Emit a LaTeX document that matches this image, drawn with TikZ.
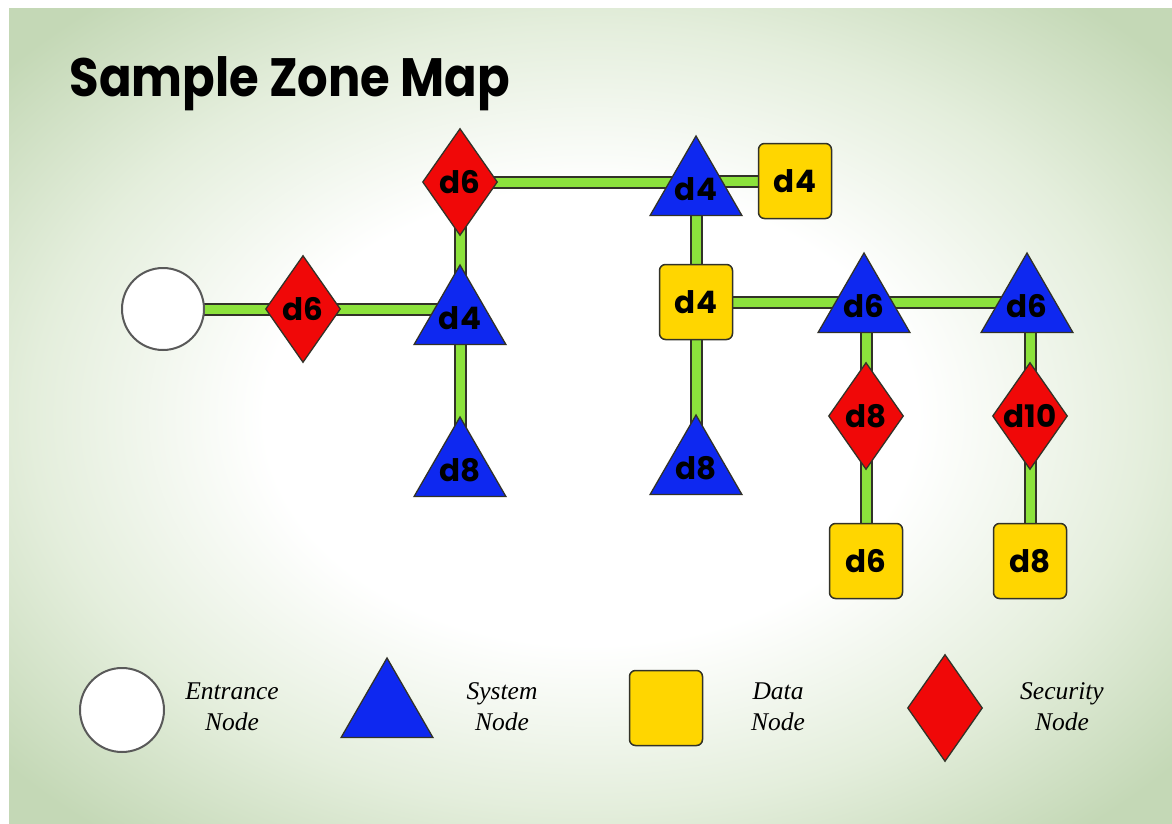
\documentclass[tikz,border=0pt]{standalone}
\usepackage{fontspec}
\setmainfont{Liberation Serif}
\newfontfamily\labfont{Poppins}
\newfontfamily\titlefont{Poppins}[FakeStretch=0.89]
\usetikzlibrary{shapes.geometric}
\definecolor{bggreen}{RGB}{196,216,182}
\definecolor{bgmid}{RGB}{228,238,220}
\definecolor{linegreen}{RGB}{140,226,60}
\definecolor{sysblue}{RGB}{14,40,240}
\definecolor{secred}{RGB}{240,8,8}
\definecolor{datayellow}{RGB}{255,214,0}
\definecolor{edgedark}{RGB}{50,50,40}
\pgfdeclarelayer{bglayer}
\pgfdeclarelayer{edgelayer}
\pgfsetlayers{bglayer,edgelayer,main}
\pgfdeclareradialshading{zonebg}{\pgfpoint{0bp}{0bp}}{color(0bp)=(white); color(14bp)=(white); color(24bp)=(bgmid); color(33bp)=(bggreen); color(50bp)=(bggreen)}
\newcommand{\zlab}[1]{\makebox[0pt]{#1}}
\begin{document}
\begin{tikzpicture}[x=1pt,y=-1pt,
  lab/.style={font=\labfont\bfseries\fontsize{31}{31}\selectfont, text=black},
  entnode/.style={circle, minimum size=82pt, inner sep=0pt, fill=white, draw=black!65, line width=2pt},
  sysnode/.style={regular polygon, regular polygon sides=3, minimum size=106pt, inner sep=0pt, fill=sysblue, draw=edgedark, line width=1.3pt, lab},
  secnode/.style={diamond, aspect=0.7, minimum width=75pt, minimum height=107pt, inner sep=0pt, fill=secred, draw=edgedark, line width=1.3pt, lab},
  datanode/.style={rectangle, rounded corners=6pt, minimum width=73pt, minimum height=75pt, inner sep=0pt, fill=datayellow, draw=edgedark, line width=1.5pt, lab},
  conn/.style={line width=2pt, draw=edgedark, double=linegreen, double distance=9pt},
  legtext/.style={font=\itshape\fontsize{25.5}{31}\selectfont, align=center, text=black}
]
\useasboundingbox (0,0) rectangle (1172,824);
\begin{pgfonlayer}{bglayer}
  \fill[white] (0,0) rectangle (1172,824);
  \fill[bggreen] (9,9) rectangle (1172,824);
  \shade[shading=zonebg] (9,9) rectangle (1172,824);
\end{pgfonlayer}

\node[anchor=base west, font=\titlefont\bfseries\fontsize{54}{54}\selectfont] (title) at (66,97) {Sample Zone Map};

% map nodes
\node[entnode] (ent) at (163,309) {};
\node[secnode] (s1) at (303,309) {\zlab{d6}};
\node[sysnode] (t1) at (460,318) {\zlab{d4}};
\node[sysnode] (t1b) at (460,470) {\zlab{d8}};
\node[secnode] (s2) at (460,182) {\zlab{d6}};
\node[sysnode] (t2) at (696,189) {\zlab{d4}};
\node[datanode] (q1) at (795,181) {\zlab{d4}};
\node[datanode] (q2) at (696,302) {\zlab{d4}};
\node[sysnode] (t3) at (696,468) {\zlab{d8}};
\node[sysnode] (t4) at (864,306) {\zlab{d6}};
\node[sysnode] (t5) at (1027,306) {\zlab{d6}};
\node[secnode] (s3) at (866,416) {\zlab{d8}};
\node[secnode] (s4) at (1030,416) {\zlab{d10}};
\node[datanode] (q3) at (866,561) {\zlab{d6}};
\node[datanode] (q4) at (1030,561) {\zlab{d8}};

\begin{pgfonlayer}{edgelayer}
  \draw[conn] (ent.center) -- (s1.center) -- (s1.center -| t1.center);
  \draw[conn] (s2.center) -- (t1b.center);
  \draw[conn] (s2.center) -- (s2.center -| t2.center);
  \draw[conn] (q1.center) -- (q1.center -| t2.center);
  \draw[conn] (t2.center) -- (t3.center);
  \draw[conn] (q2.center) -- (q2.center -| t5.center);
  \draw[conn] (s3.center |- t4.center) -- (q3.center);
  \draw[conn] (s4.center |- t5.center) -- (q4.center);
\end{pgfonlayer}

% legend
\node[entnode, minimum size=84pt] (lent) at (122,710) {};
\node[legtext] (lentt) at (232,707) {Entrance\\Node};
\node[sysnode] (lsys) at (387,711) {};
\node[legtext] (lsyst) at (502,707) {System\\Node};
\node[datanode] (ldat) at (666,708) {};
\node[legtext] (ldatt) at (778,707) {Data\\Node};
\node[secnode] (lsec) at (945,708) {};
\node[legtext] (lsect) at (1062,707) {Security\\Node};
\end{tikzpicture}
\end{document}
